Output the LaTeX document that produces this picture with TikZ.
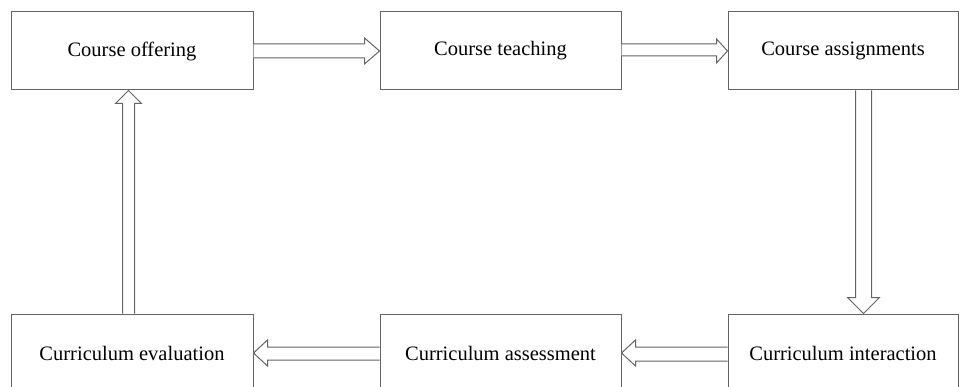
\documentclass[tikz,border=0pt]{standalone}
\usepackage{fontspec}
\setmainfont{Liberation Serif}
\usetikzlibrary{calc}
\definecolor{linegray}{RGB}{100,100,100}
\begin{document}
\begin{tikzpicture}[x=1pt,y=-1pt,
  stagebox/.style={draw=linegray,line width=1pt,minimum height=78pt,inner sep=0pt,font=\fontsize{20.5}{24}\selectfont,text=black},
  blockarrow/.style={draw=linegray,line width=1pt,fill=white,line join=miter}]
\useasboundingbox (0,0) rectangle (960,387);
\clip (0,0) rectangle (960,387);
\node[stagebox,minimum width=242pt] (offer) at (132,51) {Course offering};
\node[stagebox,minimum width=241pt] (teach) at (500.5,51) {Course teaching};
\node[stagebox,minimum width=230pt] (assign) at (843,51) {Course assignments};
\node[stagebox,minimum width=242pt] (eval) at (132,353) {Curriculum evaluation};
\node[stagebox,minimum width=241pt] (assess) at (500.5,353) {Curriculum assessment};
\node[stagebox,minimum width=230pt] (inter) at (843,353) {Curriculum interaction};
% offer -> teach
\draw[blockarrow] ($(offer.east)+(0,-7)$) -- ($(teach.west)+(-15,-7)$) -- ($(teach.west)+(-15,-13)$) -- (teach.west) -- ($(teach.west)+(-15,13)$) -- ($(teach.west)+(-15,7)$) -- ($(offer.east)+(0,7)$);
% teach -> assign
\draw[blockarrow] ($(teach.east)+(0,-7)$) -- ($(assign.west)+(-11,-7)$) -- ($(assign.west)+(-11,-12)$) -- (assign.west) -- ($(assign.west)+(-11,12)$) -- ($(assign.west)+(-11,5)$) -- ($(teach.east)+(0,5)$);
% assign -> inter (down)
\coordinate (dtop) at ($(assign.south west)+(136,0)$);
\coordinate (dtip) at ($(inter.north west)+(136,0)$);
\draw[blockarrow] ($(dtop)+(-8,0)$) -- ($(dtip)+(-8,-16)$) -- ($(dtip)+(-16,-16)$) -- (dtip) -- ($(dtip)+(16,-16)$) -- ($(dtip)+(8,-16)$) -- ($(dtop)+(8,0)$);
% inter -> assess
\draw[blockarrow] ($(inter.west)+(0,-6)$) -- ($(assess.east)+(14,-6)$) -- ($(assess.east)+(14,-13)$) -- (assess.east) -- ($(assess.east)+(14,13)$) -- ($(assess.east)+(14,8)$) -- ($(inter.west)+(0,8)$);
% assess -> eval
\draw[blockarrow] ($(assess.west)+(0,-6)$) -- ($(eval.east)+(14,-6)$) -- ($(eval.east)+(14,-13)$) -- (eval.east) -- ($(eval.east)+(14,13)$) -- ($(eval.east)+(14,7)$) -- ($(assess.west)+(0,7)$);
% eval -> offer (up)
\coordinate (ubot) at ($(eval.north west)+(118,0)$);
\coordinate (utip) at ($(offer.south west)+(118,0)$);
\draw[blockarrow] ($(ubot)+(-6,0)$) -- ($(utip)+(-6,13)$) -- ($(utip)+(-13,13)$) -- (utip) -- ($(utip)+(13,13)$) -- ($(utip)+(6,13)$) -- ($(ubot)+(6,0)$);
\end{tikzpicture}
\end{document}
